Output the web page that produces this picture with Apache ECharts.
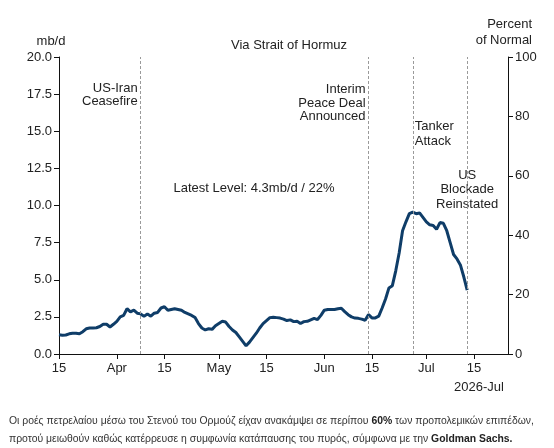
<!DOCTYPE html>
<html>
<head>
<meta charset="utf-8">
<script src="https://cdn.jsdelivr.net/npm/echarts@6/dist/echarts.min.js"></script>
<style>
  html, body { margin: 0; padding: 0; background: #fff; }
  #chart { width: 554px; height: 448px; }
</style>
</head>
<body>
<div id="chart"></div>
<script>
// daily flows via Strait of Hormuz (mb/d), one value per day starting 2026-03-15
const flows = [
  1.30, 1.27, 1.28, 1.36, 1.40, 1.40, 1.36, 1.50, 1.70, 1.75,
  1.75, 1.77, 1.85, 2.00, 2.00, 1.82, 2.00, 2.20, 2.50, 2.60,
  3.05, 2.84, 2.95, 2.75, 2.70, 2.55, 2.70, 2.55, 2.75, 2.80,
  3.10, 3.18, 2.95, 3.00, 3.05, 3.00, 2.95, 2.80, 2.70, 2.60,
  2.45, 2.05, 1.75, 1.62, 1.70, 1.66, 1.90, 2.05, 2.20, 2.15,
  1.85, 1.62, 1.45, 1.15, 0.85, 0.55, 0.80, 1.10, 1.40, 1.75,
  2.05, 2.25, 2.45, 2.48, 2.45, 2.42, 2.35, 2.25, 2.30, 2.18,
  2.20, 2.05, 2.18, 2.20, 2.30, 2.40, 2.32, 2.60, 2.95, 3.00,
  3.00, 3.00, 3.05, 3.08, 2.85, 2.65, 2.50, 2.42, 2.40, 2.35,
  2.27, 2.65, 2.43, 2.43, 2.55, 3.10, 3.70, 4.45, 4.60, 5.60,
  6.80, 8.30, 8.90, 9.45, 9.55, 9.45, 9.50, 9.20, 8.90, 8.70,
  8.65, 8.40, 8.85, 8.80, 8.30, 7.50, 6.70, 6.40, 6.00, 5.20,
  4.30
];

// x axis: days since Mar 15
const tickDays = [0, 17, 31, 47, 61, 78, 92, 108, 122];
const tickLabels = ["15", "Apr", "15", "May", "15", "Jun", "15", "Jul", "15"];

// event markers
const eventDays = [24, 91, 104, 120];
const eventLabels = ["US-Iran\nCeasefire", "Interim\nPeace Deal\nAnnounced", "Tanker\nAttack", "US\nBlockade\nReinstated"];

const FONT = "'Liberation Sans', Arial, sans-serif";
const INK = "#222";

var chart = echarts.init(document.getElementById("chart"));

var option = {
  animation: false,
  backgroundColor: "#fff",
  title: {
    text: "Via Strait of Hormuz",
    left: 284,
    top: 34,
    textAlign: "center",
    textStyle: { fontFamily: FONT, fontSize: 13, fontWeight: "normal", color: INK },
  },
  grid: { left: 59, right: 46, top: 57, height: 297 },
  xAxis: {
    type: "value",
    min: 0,
    max: 132,
    axisLine: { show: true, lineStyle: { color: "#111", width: 1 } },
    axisTick: { show: true, length: 5, customValues: tickDays, lineStyle: { color: "#111" } },
    axisLabel: {
      customValues: tickDays,
      margin: 8,
      fontFamily: FONT,
      fontSize: 13,
      color: INK,
      formatter: function (v) {
        var i = tickDays.indexOf(v);
        return i >= 0 ? tickLabels[i] : "";
      },
    },
    splitLine: { show: false },
  },
  yAxis: [
    {
      type: "value",
      min: 0,
      max: 20,
      interval: 2.5,
      axisLine: { show: true, lineStyle: { color: "#111", width: 1 } },
      axisTick: { show: true, length: 5, lineStyle: { color: "#111" } },
      axisLabel: {
        margin: 7,
        fontFamily: FONT,
        fontSize: 13,
        color: INK,
        formatter: function (v) { return v.toFixed(1); },
      },
      splitLine: { show: false },
    },
    {
      type: "value",
      position: "right",
      min: 0,
      max: 100,
      interval: 20,
      axisLine: { show: true, lineStyle: { color: "#111", width: 1 } },
      axisTick: { show: true, length: 5, lineStyle: { color: "#111" } },
      axisLabel: { margin: 7, fontFamily: FONT, fontSize: 13, color: INK },
      splitLine: { show: false },
    },
  ],
  series: [
    {
      type: "line",
      yAxisIndex: 0,
      data: flows.map(function (v, i) { return [i, v]; }),
      showSymbol: false,
      smooth: false,
      lineStyle: { color: "#0f3d68", width: 3 },
      markLine: {
        silent: true,
        symbol: "none",
        label: { show: false },
        lineStyle: { color: "#9a9a9a", width: 1, type: [3, 2] },
        data: eventDays.map(function (d) { return { xAxis: d }; }),
      },
      z: 3,
    },
  ],
};
chart.setOption(option);

// annotations placed next to the event lines
function px(day) { return chart.convertToPixel({ xAxisIndex: 0 }, day); }
var txt = function (x, y, text, align, extra) {
  return {
    type: "text",
    x: x,
    y: y,
    style: Object.assign({
      text: text,
      align: align,
      verticalAlign: "top",
      fontFamily: FONT,
      fontSize: 13,
      lineHeight: 14,
      fill: INK,
    }, extra || {}),
    silent: true,
  };
};

chart.setOption({
  graphic: [
    txt(51, 34, "mb/d", "center"),
    txt(532, 16, "Percent\nof Normal", "right", { lineHeight: 16 }),
    txt(px(eventDays[0]) - 3, 82, eventLabels[0], "right", { lineHeight: 13 }),
    txt(px(eventDays[1]) - 3, 83, eventLabels[1], "right", { lineHeight: 13.5 }),
    txt(px(eventDays[2]) + 2, 119, eventLabels[2], "left", { lineHeight: 15 }),
    txt(px(eventDays[3]), 168, eventLabels[3], "center", { lineHeight: 14.5 }),
    txt(254, 181, "Latest Level: 4.3mb/d / 22%", "center"),
    txt(479, 380, "2026-Jul", "center"),
    {
      type: "text",
      x: 9,
      y: 412,
      style: {
        text: "Οι ροές πετρελαίου μέσω του Στενού του Ορμούζ είχαν ανακάμψει σε περίπου {b|60%} των προπολεμικών επιπέδων,\nπροτού μειωθούν καθώς κατέρρευσε η συμφωνία κατάπαυσης του πυρός, σύμφωνα με την {b|Goldman Sachs.}",
        fontFamily: FONT,
        fontSize: 10.4,
        lineHeight: 18,
        fill: "#333",
        rich: { b: { fontFamily: FONT, fontSize: 10.4, fontWeight: "bold", fill: "#222", lineHeight: 18 } },
      },
      silent: true,
    },
  ],
});
</script>
</body>
</html>
